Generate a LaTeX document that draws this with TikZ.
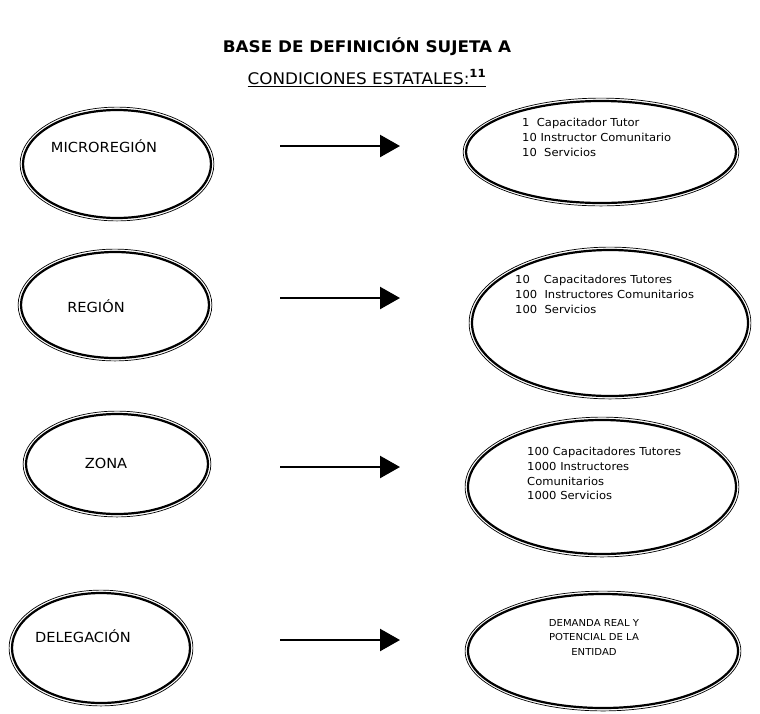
\documentclass[tikz,border=0pt]{standalone}
\usepackage{fontspec}
\setmainfont{DejaVu Sans}[FakeStretch=1.05]
\usetikzlibrary{shapes.geometric,arrows.meta,calc}

\begin{document}
\begin{tikzpicture}[x=1pt, y=-1pt]
    \tikzstyle{every node} = [align=center, inner sep=0pt]
    \tikzstyle{bubble} = [ellipse, draw, line width=2.2pt]
    \tikzstyle{ring} = [line width=0.7pt]
    \tikzstyle{nivel} = [font=\fontsize{13.9}{16}\selectfont]
    \tikzstyle{cifras} = [anchor=north west, align=left, font=\fontsize{11}{14.8}\selectfont]
    \tikzstyle{flecha} = [line width=2.4pt, -{Triangle[length=20pt, width=22pt]}]
    \useasboundingbox (0,0) rectangle (760,713);

    % encabezado
    \node[font=\fontsize{16}{19}\selectfont\bfseries] (titulo) at (367,47) {BASE DE DEFINICIÓN SUJETA A};
    \node[font=\fontsize{16}{19}\selectfont] (subtitulo) at (367,78)
        {\underline{CONDICIONES ESTATALES:\textsuperscript{\bfseries 11}}};

    % niveles
    \node[bubble, minimum width=188pt, minimum height=108pt] (micro) at (117,164) {};
    \node[bubble, minimum width=188pt, minimum height=106pt] (region) at (115,305) {};
    \node[bubble, minimum width=182pt, minimum height=100pt] (zona) at (117,464) {};
    \node[bubble, minimum width=178pt, minimum height=110pt] (delega) at (101,648) {};
    \node[nivel] (tmicro) at (104,146) {MICROREGIÓN};
    \node[nivel] (tregion) at (96,306) {REGIÓN};
    \node[nivel] (tzona) at (106,463) {ZONA};
    \node[nivel] (tdelega) at (83,636) {DELEGACIÓN};

    % cantidades
    \node[bubble, minimum width=270pt, minimum height=102pt] (cmicro) at (601,152) {};
    \node[bubble, minimum width=276pt, minimum height=146pt] (cregion) at (610,323) {};
    \node[bubble, minimum width=268pt, minimum height=134pt] (czona) at (602,487) {};
    \node[bubble, minimum width=270pt, minimum height=114pt] (cdelega) at (603,651) {};
    \node[cifras] (lmicro) at (522,118)
        {1\ \ Capacitador Tutor\\10 Instructor Comunitario\\10\ \ Servicios};
    \node[cifras] (lregion) at (515,275)
        {10\hspace{14pt}Capacitadores Tutores\\100\ \ Instructores Comunitarios\\100\ \ Servicios};
    \node[cifras] (lzona) at (527,447)
        {100 Capacitadores Tutores\\1000 Instructores\\Comunitarios\\1000 Servicios};
    \node[font=\fontsize{9.6}{14.5}\selectfont] (ldelega) at (594,637)
        {DEMANDA REAL Y\\POTENCIAL DE LA\\ENTIDAD};

    % contorno fino exterior
    \foreach \b in {micro,region,zona,delega,cmicro,cregion,czona,cdelega}
        \draw[ring] let \p0=(\b.center), \p1=(\b.east), \p2=(\b.north) in
            (\b.center) ellipse ({\x1-\x0+1.8pt} and {\y2-\y0+1.8pt});

    % flechas
    \foreach \y [count=\i] in {146,298,467,640} {
        \coordinate (s\i) at (280,\y);
        \coordinate (e\i) at (400,\y);
        \draw[flecha] (s\i) -- (e\i);
    }
\end{tikzpicture}
\end{document}
